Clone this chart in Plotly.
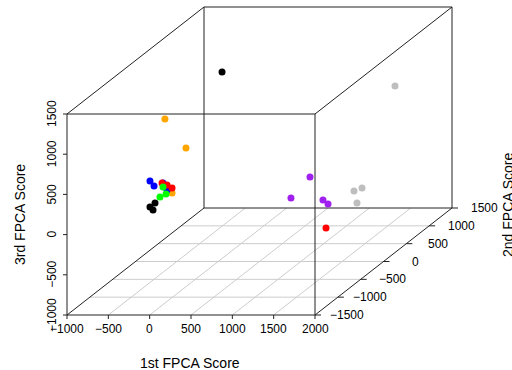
import plotly.graph_objects as go

# ---- data (1st, 2nd, 3rd FPCA scores) ----
score1 = [-395, -825, -764, -788,
          -202, -113, -558,
          -825, -776, -667, -619,
          -679, -619, -558, 1636,
          -667, -631, -704,
          945, 715, 1102, 1163,
          1642, 1146, 1243, 1182]
score2 = [800, 0, 0, 0,
          -800, -500, 0,
          0, 0, 0, 0,
          0, 0, 0, -600,
          0, 0, 0,
          300, 300, 300, 300,
          900, 900, 900, 900]
score3 = [1002, -322, -272, -359,
          1127, 633, -148,
          1, -61, -24, -111,
          -24, -48, -86, -317,
          -73, -160, -198,
          -82, -343, -368, -418,
          784, -522, -485, -672]
point_colors = (["black"] * 4 + ["#FFA500"] * 3 + ["#0000FF"] * 4 + ["#FF0000"] * 4 +
                ["#00FF00"] * 3 + ["#A020F0"] * 4 + ["#BEBEBE"] * 4)

x_ticks = [-1000, -500, 0, 500, 1000, 1500, 2000]
y_ticks = [-1500, -1000, -500, 0, 500, 1000, 1500]
z_ticks = [-1000, -500, 0, 500, 1000, 1500]
x_title = "1st FPCA Score"
y_title = "2nd FPCA Score"
z_title = "3rd FPCA Score"

# ---- oblique (scatterplot3d-like) projection onto a pixel plane ----
XMIN, XMAX = x_ticks[0], x_ticks[-1]
YMIN, YMAX = y_ticks[0], y_ticks[-1]
ZMIN, ZMAX = z_ticks[0], z_ticks[-1]
X0, Y0 = 67.0, 315.0
SX = 248.0 / (XMAX - XMIN)
SZ = 201.0 / (ZMAX - ZMIN)
DX = 137.0 / (YMAX - YMIN)
DY = 107.0 / (YMAX - YMIN)


def proj(x, y, z):
    px = X0 + (x - XMIN) * SX + (y - YMIN) * DX
    py = Y0 - (z - ZMIN) * SZ - (y - YMIN) * DY
    return px, py


FONT = "Liberation Sans, Arial, Helvetica, sans-serif"
shapes = []
annotations = []


def seg(p, q, color, width=1):
    a = proj(*p)
    b = proj(*q)
    shapes.append(dict(type="line", xref="x", yref="y", x0=a[0], y0=a[1], x1=b[0], y1=b[1],
                       line=dict(color=color, width=width), layer="below"))


# floor grid
for xv in x_ticks[1:-1]:
    seg((xv, YMIN, ZMIN), (xv, YMAX, ZMIN), "#cccccc")
for yv in y_ticks[1:-1]:
    seg((XMIN, yv, ZMIN), (XMAX, yv, ZMIN), "#cccccc")

# box
BOX = "#222222"
edges = [
    ((XMIN, YMIN, ZMIN), (XMAX, YMIN, ZMIN)),
    ((XMAX, YMIN, ZMIN), (XMAX, YMIN, ZMAX)),
    ((XMAX, YMIN, ZMAX), (XMIN, YMIN, ZMAX)),
    ((XMIN, YMIN, ZMAX), (XMIN, YMIN, ZMIN)),
    ((XMIN, YMAX, ZMIN), (XMAX, YMAX, ZMIN)),
    ((XMIN, YMAX, ZMIN), (XMIN, YMAX, ZMAX)),
    ((XMIN, YMAX, ZMAX), (XMAX, YMAX, ZMAX)),
    ((XMAX, YMAX, ZMAX), (XMAX, YMAX, ZMIN)),
    ((XMIN, YMIN, ZMIN), (XMIN, YMAX, ZMIN)),
    ((XMIN, YMIN, ZMAX), (XMIN, YMAX, ZMAX)),
    ((XMAX, YMIN, ZMAX), (XMAX, YMAX, ZMAX)),
    ((XMAX, YMIN, ZMIN), (XMAX, YMAX, ZMIN)),
]
for p, q in edges:
    seg(p, q, BOX)

# x axis ticks & labels
for xv in x_ticks:
    px, py = proj(xv, YMIN, ZMIN)
    shapes.append(dict(type="line", xref="x", yref="y", x0=px, y0=py, x1=px, y1=py + 4,
                       line=dict(color=BOX, width=1)))
    annotations.append(dict(x=px, y=py + 14, xref="x", yref="y", text=f"{xv:d}".replace("-", "\u2212"),
                            showarrow=False, font=dict(family=FONT, size=12, color="black"),
                            xanchor="center", yanchor="middle"))

# z axis ticks & labels (vertical text)
for zv in z_ticks:
    px, py = proj(XMIN, YMIN, zv)
    shapes.append(dict(type="line", xref="x", yref="y", x0=px, y0=py, x1=px - 4, y1=py,
                       line=dict(color=BOX, width=1)))
    annotations.append(dict(x=px - 15, y=py, xref="x", yref="y", text=f"{zv:d}".replace("-", "\u2212"),
                            showarrow=False, textangle=-90,
                            font=dict(family=FONT, size=12, color="black"),
                            xanchor="center", yanchor="middle"))

# y axis ticks & labels (on the right floor edge)
for yv in y_ticks:
    px, py = proj(XMAX, yv, ZMIN)
    shapes.append(dict(type="line", xref="x", yref="y", x0=px, y0=py, x1=px + 6, y1=py,
                       line=dict(color=BOX, width=1)))
    annotations.append(dict(x=px + 32, y=py, xref="x", yref="y", text=f"{yv:d}".replace("-", "\u2212"),
                            showarrow=False, font=dict(family=FONT, size=12, color="black"),
                            xanchor="center", yanchor="middle"))

# axis titles
annotations.append(dict(x=190, y=363, xref="x", yref="y", text=x_title, showarrow=False,
                        font=dict(family=FONT, size=14, color="black"),
                        xanchor="center", yanchor="middle"))
annotations.append(dict(x=20, y=215, xref="x", yref="y", text=z_title, showarrow=False, textangle=-90,
                        font=dict(family=FONT, size=14, color="black"),
                        xanchor="center", yanchor="middle"))
annotations.append(dict(x=508, y=205, xref="x", yref="y", text=y_title, showarrow=False, textangle=-90,
                        font=dict(family=FONT, size=14, color="black"),
                        xanchor="center", yanchor="middle"))

# points
pts = [proj(a, b, c) for a, b, c in zip(score1, score2, score3)]
fig = go.Figure(go.Scatter(
    x=[p[0] for p in pts], y=[p[1] for p in pts], mode="markers",
    marker=dict(color=point_colors, size=7, line=dict(width=0)),
    hoverinfo="skip", showlegend=False))

fig.update_layout(
    width=512, height=370,
    margin=dict(l=0, r=0, t=0, b=0),
    paper_bgcolor="white", plot_bgcolor="white",
    xaxis=dict(range=[0, 512], visible=False, fixedrange=True),
    yaxis=dict(range=[370, 0], visible=False, fixedrange=True),
    shapes=shapes, annotations=annotations,
)
fig.write_html("out.html")
